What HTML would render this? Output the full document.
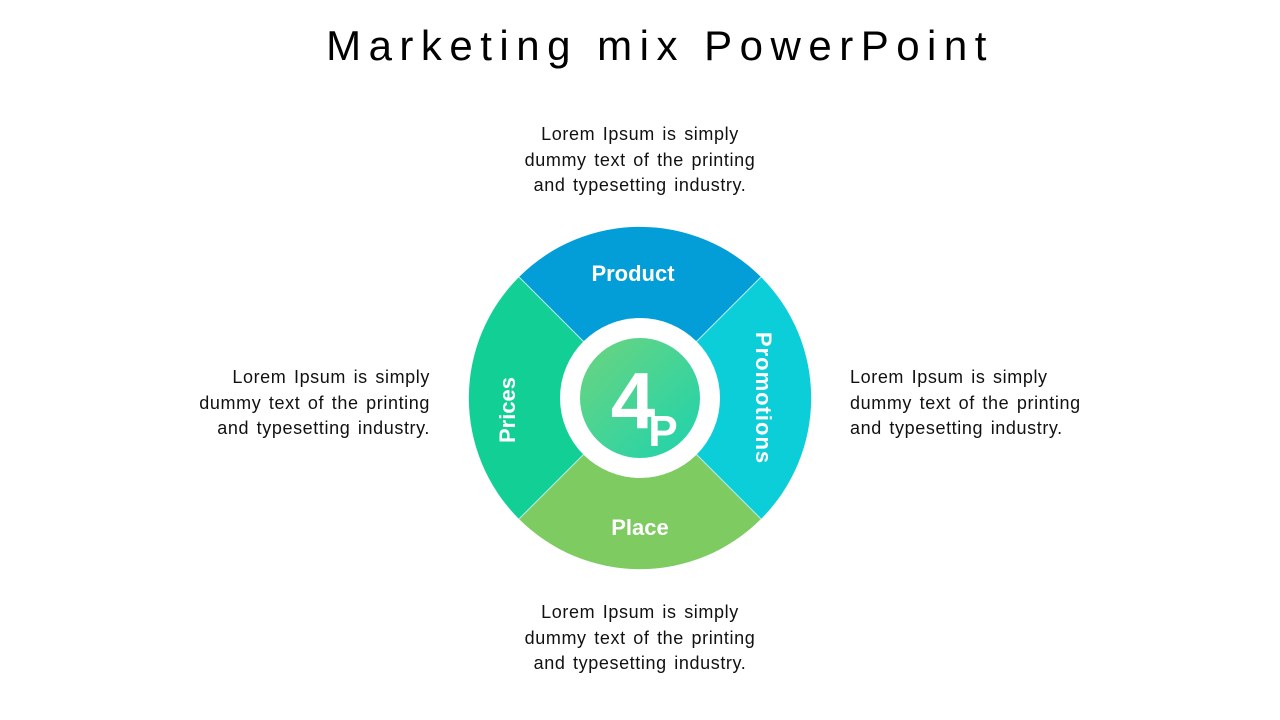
<!DOCTYPE html>
<html><head><meta charset="utf-8"><style>
body{margin:0;background:#fff;width:1280px;height:720px;overflow:hidden;position:relative;font-family:"Liberation Sans",sans-serif}
.t{position:absolute;top:22px;left:20px;width:1280px;text-align:center;font-size:42px;letter-spacing:7.5px;color:#000}
.p{position:absolute;font-size:18px;line-height:25.5px;color:#111;width:320px;letter-spacing:0.6px;word-spacing:2px}
</style></head><body>
<div class="t">Marketing mix PowerPoint</div>
<div class="p" style="left:480px;top:122px;text-align:center">Lorem Ipsum is simply<br>dummy text of the printing<br>and typesetting industry.</div>
<div class="p" style="left:480px;top:600px;text-align:center">Lorem Ipsum is simply<br>dummy text of the printing<br>and typesetting industry.</div>
<div class="p" style="left:110px;top:365px;text-align:right">Lorem Ipsum is simply<br>dummy text of the printing<br>and typesetting industry.</div>
<div class="p" style="left:850px;top:365px;text-align:left">Lorem Ipsum is simply<br>dummy text of the printing<br>and typesetting industry.</div>
<svg width="1280" height="720" style="position:absolute;left:0;top:0">
<defs><linearGradient id="g" x1="0" y1="0" x2="1" y2="1"><stop offset="0" stop-color="#6dd47e"/><stop offset="1" stop-color="#1dd3ae"/></linearGradient></defs>
<g transform="translate(640,398)">
<path d="M0 0 L-121 -121 A171 171 0 0 1 121 -121 Z" fill="#039dd8"/>
<path d="M0 0 L121 -121 A171 171 0 0 1 121 121 Z" fill="#0bced8"/>
<path d="M0 0 L121 121 A171 171 0 0 1 -121 121 Z" fill="#7dcb61"/>
<path d="M0 0 L-121 121 A171 171 0 0 1 -121 -121 Z" fill="#12d095"/>
<line x1="-121" y1="-121" x2="121" y2="121" stroke="#bfeee8" stroke-width="1"/>
<line x1="121" y1="-121" x2="-121" y2="121" stroke="#bfeee8" stroke-width="1"/>
<circle r="80" fill="#fff"/>
<circle r="60" fill="url(#g)"/>
<g fill="#fff" font-family="Liberation Sans,sans-serif" font-weight="bold" text-anchor="middle">
<text x="-7" y="30" font-size="80">4</text>
<text x="23" y="48" font-size="44">P</text>
<text x="-7" y="-117" font-size="22">Product</text>
<text x="0" y="137" font-size="22">Place</text>
<text transform="translate(-125,12) rotate(-90)" font-size="22" x="0" y="0">Prices</text>
<text transform="translate(116,0) rotate(90)" font-size="22" letter-spacing="1" x="0" y="0">Promotions</text>
</g></g></svg>
</body></html>
